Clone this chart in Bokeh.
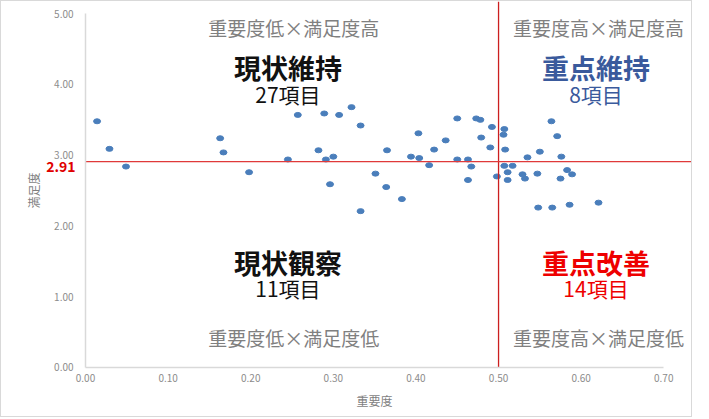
from bokeh.plotting import figure
from bokeh.models import Label, FixedTicker, NumeralTickFormatter, Range1d
from bokeh.embed import file_html
from bokeh.resources import INLINE

# 重要度 (x) / 満足度 (y) for each survey item
importance = [0.014, 0.029, 0.049, 0.163, 0.167, 0.198, 0.245, 0.257, 0.282, 0.289,
              0.291, 0.296, 0.300, 0.307, 0.322, 0.333, 0.333, 0.351, 0.364, 0.365,
              0.383, 0.394, 0.403, 0.404, 0.416, 0.422, 0.436, 0.450, 0.450, 0.463,
              0.463, 0.467, 0.473, 0.478, 0.479, 0.490, 0.492, 0.498, 0.506, 0.507,
              0.508, 0.507, 0.517, 0.511, 0.511, 0.529, 0.532, 0.535, 0.547, 0.550,
              0.548, 0.564, 0.565, 0.571, 0.575, 0.576, 0.583, 0.586, 0.589, 0.621]
satisfaction = [3.48, 3.09, 2.84, 3.24, 3.04, 2.76, 2.94, 3.57, 3.07, 3.59,
                2.94, 2.59, 2.98, 3.57, 3.68, 3.42, 2.21, 2.74, 2.55, 3.07,
                2.38, 2.98, 3.31, 2.96, 2.86, 3.08, 3.21, 3.52, 2.94, 2.94,
                2.65, 2.84, 3.52, 3.50, 3.25, 3.11, 3.40, 2.70, 3.29, 3.37,
                3.08, 2.85, 2.85, 2.76, 2.65, 2.73, 2.67, 2.97, 2.74, 3.05,
                2.26, 3.48, 2.26, 3.27, 2.67, 2.98, 2.79, 2.30, 2.73, 2.33]

# thresholds
imp_line = 0.50
sat_line = 2.91

x_ticks = [0.0, 0.1, 0.2, 0.3, 0.4, 0.5, 0.6, 0.7]
y_ticks = [0.0, 1.0, 2.0, 3.0, 4.0, 5.0]

# quadrant titles, counts, sub captions
quad_titles = ["現状維持", "重点維持", "現状観察", "重点改善"]
quad_counts = ["27項目", "8項目", "11項目", "14項目"]
quad_captions = ["重要度低×満足度高", "重要度高×満足度高", "重要度低×満足度低", "重要度高×満足度低"]

JP = "Noto Sans CJK JP"
X_END = 0.736
Y_END = 5.173

# the frame covers the whole canvas; both axes are pinned at 0 so their labels stay visible
p = figure(width=692, height=417, output_backend="svg", toolbar_location=None,
           x_range=Range1d(-0.1017, X_END), y_range=Range1d(-0.721, Y_END),
           min_border_left=0, min_border_right=0, min_border_top=0, min_border_bottom=0)
p.styles = {"border": "1px solid #d9d9d9"}
p.outline_line_color = None
p.grid.visible = False

p.ellipse(importance, satisfaction, width=7, height=5, width_units="screen",
          height_units="screen", color="#4a7ebb")

p.segment(x0=imp_line, y0=0, x1=imp_line, y1=Y_END, line_color="#cc1f1f", line_width=1.3)
p.segment(x0=0, y0=sat_line, x1=X_END, y1=sat_line, line_color="#e03a3a", line_width=1.2)

for ax in (p.xaxis, p.yaxis):
    ax.fixed_location = 0
    ax.axis_line_color = "#d9d9d9"
    ax.axis_line_width = 1.5
    ax.major_tick_line_color = None
    ax.minor_tick_line_color = None
    ax.major_tick_out = 0
    ax.major_label_text_font = JP
    ax.major_label_text_font_size = "10px"
    ax.major_label_text_color = "#8c8c8c"
    ax.formatter = NumeralTickFormatter(format="0.00")
    ax.axis_label_text_font = JP
    ax.axis_label_text_font_style = "normal"
    ax.axis_label_text_font_size = "12px"
    ax.axis_label_text_color = "#7f7f7f"

p.xaxis.ticker = FixedTicker(ticks=x_ticks)
p.yaxis.ticker = FixedTicker(ticks=y_ticks)
p.xaxis.bounds = (0, 0.7)
p.yaxis.bounds = (0, 5)
p.xaxis.axis_label = "重要度"
p.yaxis.axis_label = "満足度"
p.xaxis.major_label_standoff = 7
p.yaxis.major_label_standoff = 12
p.xaxis.axis_label_standoff = 6
p.yaxis.axis_label_standoff = 9

# threshold value next to the y axis
p.add_layout(Label(x=-0.012, y=sat_line, y_offset=-5, text="2.91", text_align="right",
                   text_baseline="middle", text_font=JP, text_font_style="bold",
                   text_font_size="14px", text_color="#e00000"))

left_x, right_x = 0.245, 0.618
title_colors = ["#111111", "#3a5a9c", "#111111", "#ee0000"]
title_pos = [(left_x, 4.24), (right_x, 4.24), (left_x, 1.48), (right_x, 1.48)]
count_pos = [(left_x, 3.86), (right_x, 3.86), (left_x, 1.12), (right_x, 1.12)]
caption_pos = [(0.252, 4.80), (0.621, 4.80), (0.252, 0.42), (0.621, 0.42)]

for i in range(4):
    p.add_layout(Label(x=title_pos[i][0], y=title_pos[i][1], text=quad_titles[i],
                       text_align="center", text_baseline="middle", text_font=JP,
                       text_font_style="bold", text_font_size="27px",
                       text_color=title_colors[i]))
    p.add_layout(Label(x=count_pos[i][0], y=count_pos[i][1], text=quad_counts[i],
                       text_align="center", text_baseline="middle", text_font=JP,
                       text_font_size="21px", text_color=title_colors[i]))
    p.add_layout(Label(x=caption_pos[i][0], y=caption_pos[i][1], text=quad_captions[i],
                       text_align="center", text_baseline="middle", text_font=JP,
                       text_font_size="19px", text_color="#808080"))

open("out.html", "w").write(file_html(p, INLINE))
